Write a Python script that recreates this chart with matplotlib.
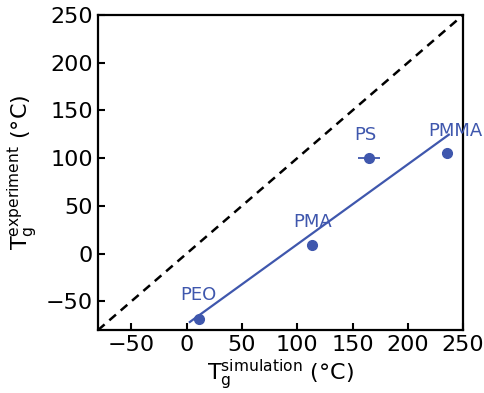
import matplotlib
matplotlib.use("Agg")
import matplotlib.pyplot as plt
import numpy as np

polymers = ["PEO", "PMA", "PS", "PMMA"]
tg_sim = [11, 113, 165, 235]
tg_sim_err = [0, 0, 10, 4]
tg_exp = [-68, 9, 100, 105]
fit_x = [3, 237]
fit_slope = 0.838
fit_intercept = -74.0
label_offsets = [(0, 15), (1, 15), (-3, 15), (8, 14)]

color = "#3f57ad"

fig = plt.figure(figsize=(4.85, 3.93), dpi=100)
ax = fig.add_axes([0.202, 0.160, 0.753, 0.802])

lims = [-80, 250]
ax.plot(lims, lims, ls="--", color="black", lw=1.8, dashes=(3.5, 2.5))
fx = np.array(fit_x, dtype=float)
ax.plot(fx, fit_slope * fx + fit_intercept, color=color, lw=1.6)
ax.errorbar(tg_sim, tg_exp, xerr=tg_sim_err, fmt="o", color=color,
            ms=7, elinewidth=1.3, capsize=0)
for name, x, y, (dx, dy) in zip(polymers, tg_sim, tg_exp, label_offsets):
    ax.text(x + dx, y + dy, name, color=color, fontsize=13,
            ha="center", va="bottom")

ax.set_xlim(lims)
ax.set_ylim(lims)
ax.set_xticks([-50, 0, 50, 100, 150, 200, 250])
ax.set_yticks([-50, 0, 50, 100, 150, 200, 250])
ax.tick_params(direction="in", length=5, width=1.5, labelsize=16)
for s in ax.spines.values():
    s.set_linewidth(1.6)
ax.set_xlabel(r"$\mathregular{T_g^{simulation}}$ (°C)", fontsize=16, labelpad=2)
ax.set_ylabel(r"$\mathregular{T_g^{experiment}}$ (°C)", fontsize=16, labelpad=4)

fig.savefig("out.png", dpi=100)
